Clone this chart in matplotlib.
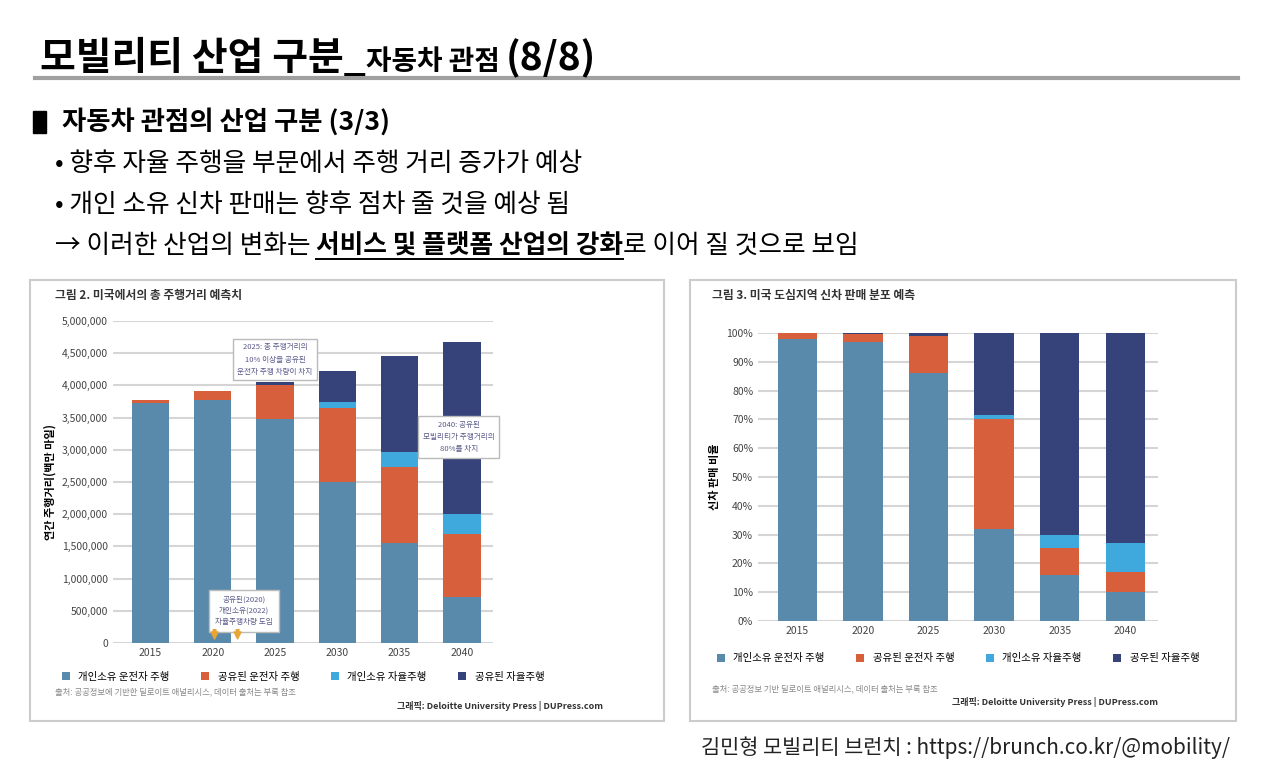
import numpy as np
import matplotlib.pyplot as plt
from matplotlib.patches import Rectangle
from matplotlib.ticker import FuncFormatter

plt.rcParams['font.family'] = ['Noto Sans CJK KR', 'DejaVu Sans']

years = ['2015', '2020', '2025', '2030', '2035', '2040']
series_names = ['개인소유 운전자 주행', '공유된 운전자 주행', '개인소유 자율주행', '공유된 자율주행']
series_names_r = ['개인소유 운전자 주행', '공유된 운전자 주행', '개인소유 자율주행', '공우된 자율주행']
colors = ['#5a8aab', '#d85f3c', '#3fa9de', '#35437a']

# 연간 주행거리 (백만 마일)
miles_private_driver = [3720000, 3780000, 3480000, 2500000, 1560000, 720000]
miles_shared_driver = [60000, 130000, 520000, 1150000, 1180000, 970000]
miles_private_auto = [0, 0, 0, 100000, 220000, 310000]
miles_shared_auto = [0, 0, 50000, 470000, 1490000, 2670000]

# 신차 판매 비율 (%)
sales_private_driver = [98, 97, 86, 32, 16, 10]
sales_shared_driver = [2, 2.5, 13, 38, 9.5, 7]
sales_private_auto = [0, 0, 0, 1.5, 4.5, 10]
sales_shared_auto = [0, 0.5, 1, 28.5, 70, 73]

W, H = 1279, 773
fig = plt.figure(figsize=(W / 100, H / 100), dpi=100)
renderer = fig.canvas.get_renderer()


def box(x0, y0, x1, y1):
    return [x0 / W, 1 - y1 / H, (x1 - x0) / W, (y1 - y0) / H]


def ftext(x, y, s, **kw):
    return fig.text(x / W, 1 - y / H, s, **kw)


def chain(x, y, parts):
    # 이어 붙이는 텍스트: 각 조각의 폭을 측정해서 다음 위치 계산
    spans = []
    for s, kw in parts:
        t = ftext(x, y, s, va='baseline', **kw)
        bb = t.get_window_extent(renderer)
        spans.append((x, x + bb.width))
        x += bb.width
    return spans


# 헤더
chain(40, 70, [('모빌리티 산업 구분_', dict(fontsize=28, fontweight='bold')),
               ('자동차 관점 ', dict(fontsize=20, fontweight='bold')),
               ('(8/8)', dict(fontsize=28, fontweight='bold'))])
fig.add_artist(plt.Line2D([35 / W, 1238 / W], [1 - 78 / H, 1 - 78 / H], color='#a0a0a0', lw=3))
fig.add_artist(Rectangle((33 / W, 1 - 133 / H), 13 / W, 22 / H, color='black'))
ftext(62, 122, '자동차 관점의 산업 구분 (3/3)', fontsize=19, fontweight='bold', va='center')
ftext(55, 164, '• 향후 자율 주행을 부문에서 주행 거리 증가가 예상', fontsize=18.5, va='center')
ftext(55, 205, '• 개인 소유 신차 판매는 향후 점차 줄 것을 예상 됨', fontsize=18.5, va='center')
spans = chain(55, 253, [('→ 이러한 산업의 변화는 ', dict(fontsize=18.5)),
                        ('서비스 및 플랫폼 산업의 강화', dict(fontsize=18.5, fontweight='bold')),
                        ('로 이어 질 것으로 보임', dict(fontsize=18.5))])
fig.add_artist(plt.Line2D([spans[1][0] / W, spans[1][1] / W], [1 - 259 / H] * 2, color='black', lw=1.4))
ftext(1230, 748, '김민형 모빌리티 브런치 : https://brunch.co.kr/@mobility/', fontsize=15,
      ha='right', va='center', color='#222222')

# 패널 테두리
for x0, x1 in [(30, 664), (690, 1236)]:
    fig.add_artist(Rectangle((x0 / W, 1 - 721 / H), (x1 - x0) / W, 441 / H,
                             fill=False, ec='#cccccc', lw=1.5))


def stacked(ax, data, names, ylim, yticks, fmt):
    bottom = np.zeros(len(years))
    for vals, c, n in zip(data, colors, names):
        ax.bar(years, vals, bottom=bottom, color=c, width=0.6, label=n, zorder=3)
        bottom += np.array(vals)
    ax.set_ylim(*ylim)
    ax.set_yticks(yticks)
    ax.yaxis.set_major_formatter(FuncFormatter(fmt))
    ax.grid(axis='y', color='#d5d5d5', lw=1.5, zorder=0)
    for s in ax.spines.values():
        s.set_visible(False)
    ax.tick_params(length=0, labelsize=7.5, colors='#444444')
    ax.set_xlim(-0.6, 5.5)


# 왼쪽 차트
ftext(55, 296, '그림 2. 미국에서의 총 주행거리 예측치', fontsize=8.5, fontweight='bold', va='center', color='#333333')
ax1 = fig.add_axes(box(113, 321, 493, 643))
stacked(ax1, [miles_private_driver, miles_shared_driver, miles_private_auto, miles_shared_auto],
        series_names, (0, 5000000), np.arange(0, 5000001, 500000), lambda v, p: f'{int(v):,}')
ax1.set_ylabel('연간 주행거리(백만 마일)', fontsize=8, fontweight='bold')
ax1.legend(loc='upper center', bbox_to_anchor=(0.5, -0.06), ncol=4, frameon=False,
           fontsize=7.5, handlelength=0.8, handleheight=0.8, columnspacing=3)
ax1.text(2, 4400000, '2025: 총 주행거리의\n10% 이상을 공유된\n운전자 주행 차량이 차지', ha='center', va='center',
         fontsize=5.5, color='#5a5a8a', linespacing=1.7, zorder=5,
         bbox=dict(fc='white', ec='#bbbbbb', boxstyle='square,pad=0.6'))
ax1.text(4.95, 3200000, '2040: 공유된\n모빌리티가 주행거리의\n80%를 차지', ha='center', va='center',
         fontsize=5.5, color='#5a5a8a', linespacing=1.7, zorder=5,
         bbox=dict(fc='white', ec='#bbbbbb', boxstyle='square,pad=0.6'))
ax1.text(1.5, 500000, '공유된(2020)\n개인소유(2022)\n자율주행차량 도입', ha='center', va='center',
         fontsize=5.5, color='#5a5a8a', linespacing=1.5, zorder=5,
         bbox=dict(fc='white', ec='#bbbbbb', boxstyle='square,pad=0.8'))
for xa in [1.03, 1.4]:
    ax1.annotate('', xy=(xa, 20000), xytext=(xa, 250000),
                 arrowprops=dict(arrowstyle='simple', color='#e8a534'), zorder=6)
ftext(55, 692, '출처: 공공정보에 기반한 딜로이트 애널리시스, 데이터 출처는 부록 참조', fontsize=6, va='center', color='#888888')
ftext(603, 706, '그래픽: Deloitte University Press | DUPress.com', fontsize=6.5, fontweight='bold',
      ha='right', va='center', color='#333333')

# 오른쪽 차트
ftext(712, 296, '그림 3. 미국 도심지역 신차 판매 분포 예측', fontsize=8.5, fontweight='bold', va='center', color='#333333')
ax2 = fig.add_axes(box(758, 333, 1158, 621))
stacked(ax2, [sales_private_driver, sales_shared_driver, sales_private_auto, sales_shared_auto],
        series_names_r, (0, 100), np.arange(0, 101, 10), lambda v, p: f'{int(v)}%')
ax2.set_ylabel('신차 판매 비율', fontsize=8, fontweight='bold')
ax2.legend(loc='upper center', bbox_to_anchor=(0.5, -0.08), ncol=4, frameon=False,
           fontsize=7.5, handlelength=0.8, handleheight=0.8, columnspacing=3)
ftext(712, 689, '출처: 공공정보 기반 딜로이트 애널리시스, 데이터 출처는 부록 참조', fontsize=6, va='center', color='#888888')
ftext(1158, 702, '그래픽: Deloitte University Press | DUPress.com', fontsize=6.5, fontweight='bold',
      ha='right', va='center', color='#333333')

fig.savefig('out.png', dpi=100)
